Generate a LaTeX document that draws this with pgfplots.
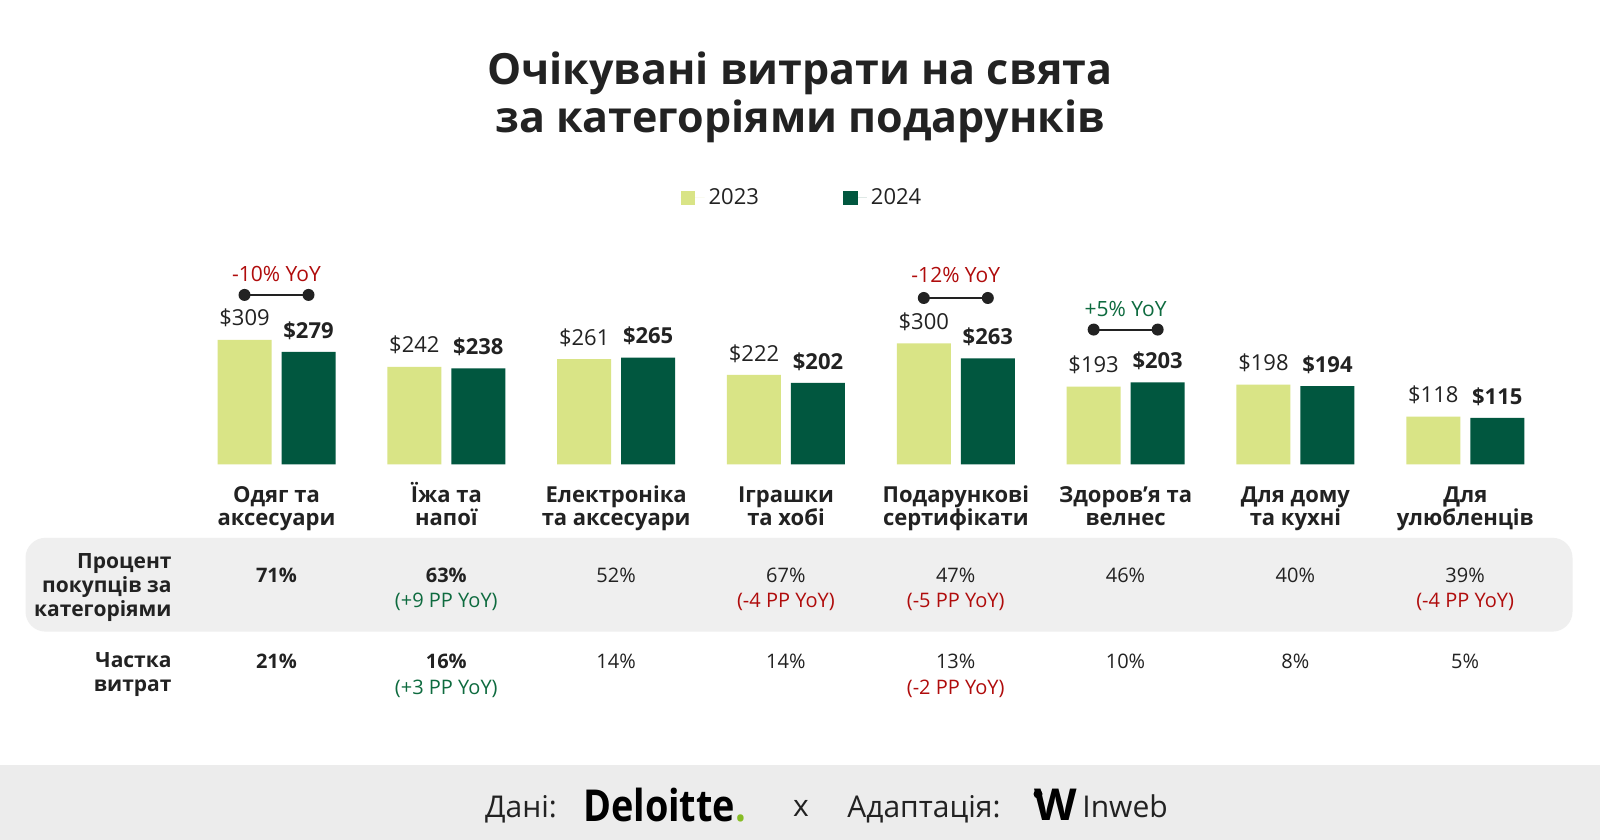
\documentclass[border=0pt]{standalone}
\usepackage{fontspec}
\setmainfont{Open Sans}[BoldFont={Open Sans Bold}]
\usepackage{graphicx}
\usepackage{pgfplots}
\pgfplotsset{compat=1.18}
\definecolor{lightg}{HTML}{D9E486}
\definecolor{darkg}{HTML}{01573F}
\definecolor{redt}{HTML}{B00C0C}
\definecolor{greent}{HTML}{0E6B3F}
\definecolor{txt}{HTML}{222222}
\definecolor{band}{HTML}{EFEFEF}
\definecolor{foot}{HTML}{ECECEC}
\definecolor{delg}{HTML}{86BC25}
\newcommand{\fs}[2]{\fontsize{#1}{#2}\selectfont}
\begin{document}
\begin{tikzpicture}
\begin{scope}[x=0.5pt,y=-0.5pt]
\fill[white] (0,0) rectangle (1600,840);
\fill[band, rounded corners=10pt] (25.5,537.8) rectangle (1572.5,631.6);
\fill[foot] (0,765) rectangle (1600,840);
\node[align=center, text=txt, font=\bfseries\fs{21.5}{24}] at (800,97.4) {Очікувані витрати на свята\\за категоріями подарунків};
\end{scope}
\begin{axis}[
  at={(95.8pt,-232.15pt)}, anchor=south west,
  scale only axis, width=679.3pt, height=80.6pt,
  xmin=-0.5, xmax=7.5, ymin=0, ymax=400,
  axis line style={draw=none}, tick style={draw=none},
  ytick=\empty,
  ybar=5pt, bar width=27pt,
  xtick={0,1,2,3,4,5,6,7},
  xticklabels={{Одяг та\\аксесуари},{Їжа та\\напої},{Електроніка\\та аксесуари},{Іграшки\\та хобі},{Подарункові\\сертифікати},{Здоров'я та\\велнес},{Для дому\\та кухні},{Для\\улюбленців}},
  xticklabel style={align=center, font=\bfseries\fs{11}{11.7}, text=txt, anchor=base, yshift=-26.5pt},
  nodes near coords={\$\pgfmathprintnumber[assume math mode=true]{\pgfplotspointmeta}},
  every node near coord/.append style={font=\fs{11}{13}, text=txt, anchor=base, yshift=6.9pt},
  clip=false,
  legend style={draw=none, fill=none, legend columns=2, at={(0.45,1.652)}, anchor=center, font=\fs{11}{13}, text=txt, /tikz/every even column/.append style={column sep=40pt}},
  legend image code/.code={\fill[#1] (0pt,-3.7pt) rectangle (7.4pt,3.7pt); \path (0pt,0pt) -- (12pt,0pt);},
]
\addplot[fill=lightg, draw=none] coordinates {(0,309) (1,242) (2,261) (3,222) (4,300) (5,193) (6,198) (7,118)};
\addplot[fill=darkg, draw=none, every node near coord/.append style={font=\bfseries\fs{11}{13}}] coordinates {(0,279) (1,238) (2,265) (3,202) (4,263) (5,203) (6,194) (7,115)};
\legend{2023,2024}
% YoY connectors
\draw[line width=1pt, txt] ([xshift=-16pt]axis cs:0,420.3) -- ([xshift=16pt]axis cs:0,420.3);
\fill[txt] ([xshift=-16pt]axis cs:0,420.3) circle (3pt);
\fill[txt] ([xshift=16pt]axis cs:0,420.3) circle (3pt);
\node[text=redt, font=\fs{10.5}{12}] at (axis cs:0,473.4) {-10\% YoY};
\draw[line width=1pt, txt] ([xshift=-16pt]axis cs:4,412.7) -- ([xshift=16pt]axis cs:4,412.7);
\fill[txt] ([xshift=-16pt]axis cs:4,412.7) circle (3pt);
\fill[txt] ([xshift=16pt]axis cs:4,412.7) circle (3pt);
\node[text=redt, font=\fs{10.5}{12}] at (axis cs:4,468.5) {-12\% YoY};
\draw[line width=1pt, txt] ([xshift=-16pt]axis cs:5,334.3) -- ([xshift=16pt]axis cs:5,334.3);
\fill[txt] ([xshift=-16pt]axis cs:5,334.3) circle (3pt);
\fill[txt] ([xshift=16pt]axis cs:5,334.3) circle (3pt);
\node[text=greent, font=\fs{10.5}{12}] at (axis cs:5,384.9) {+5\% YoY};
\end{axis}
\begin{scope}[x=0.5pt,y=-0.5pt]
% row labels
\node[anchor=east, align=right, text=txt, font=\bfseries\fs{10.5}{12}] at (178.6,588) {Процент\\покупців за\\категоріями};
\node[anchor=east, align=right, text=txt, font=\bfseries\fs{10.5}{12}] at (178.6,675) {Частка\\витрат};
% row 1 values
\begin{scope}[every node/.style={text=txt, font=\fs{10}{12}}]
\node[font=\bfseries\fs{10}{12}] at (276.5,575.5) {71\%};
\node[font=\bfseries\fs{10}{12}] at (446.3,575.5) {63\%};
\node[text=greent] at (446.3,602) {(+9 PP YoY)};
\node at (616.1,575.5) {52\%};
\node at (785.9,575.5) {67\%};
\node[text=redt] at (785.9,602) {(-4 PP YoY)};
\node at (955.7,575.5) {47\%};
\node[text=redt] at (955.7,602) {(-5 PP YoY)};
\node at (1125.5,575.5) {46\%};
\node at (1295.3,575.5) {40\%};
\node at (1465.1,575.5) {39\%};
\node[text=redt] at (1465.1,602) {(-4 PP YoY)};
% row 2 values
\node[font=\bfseries\fs{10}{12}] at (276.5,661) {21\%};
\node[font=\bfseries\fs{10}{12}] at (446.3,661) {16\%};
\node[text=greent] at (446.3,688.5) {(+3 PP YoY)};
\node at (616.1,661) {14\%};
\node at (785.9,661) {14\%};
\node at (955.7,661) {13\%};
\node[text=redt] at (955.7,688.5) {(-2 PP YoY)};
\node at (1125.5,661) {10\%};
\node at (1295.3,661) {8\%};
\node at (1465.1,661) {5\%};
\end{scope}
% footer
\node[anchor=mid west, inner sep=0, text=txt, font=\fs{15}{17}] at (484.7,812) {Дані:};
\node[anchor=mid west, inner sep=0, text=black, font=\bfseries\fs{22}{24}] at (582.7,816) {\scalebox{0.86}[1]{Deloitte{\color{delg}.}}};
\node[anchor=mid, inner sep=0, text=txt, font=\fs{15}{17}] at (801,811) {x};
\node[anchor=mid west, inner sep=0, text=txt, font=\fs{15}{17}] at (847,812) {Адаптація:};
\node[anchor=mid west, inner sep=0, text=black, font=\bfseries\fs{22}{24}] at (1034,815) {W};
\fill[black] (1038,794) circle (4.5);
\node[anchor=mid west, inner sep=0, text=txt, font=\fs{15}{17}] at (1082,812) {Inweb};
\pgfresetboundingbox
\path[use as bounding box] (0,0) rectangle (1600,840);
\end{scope}
\end{tikzpicture}
\end{document}
